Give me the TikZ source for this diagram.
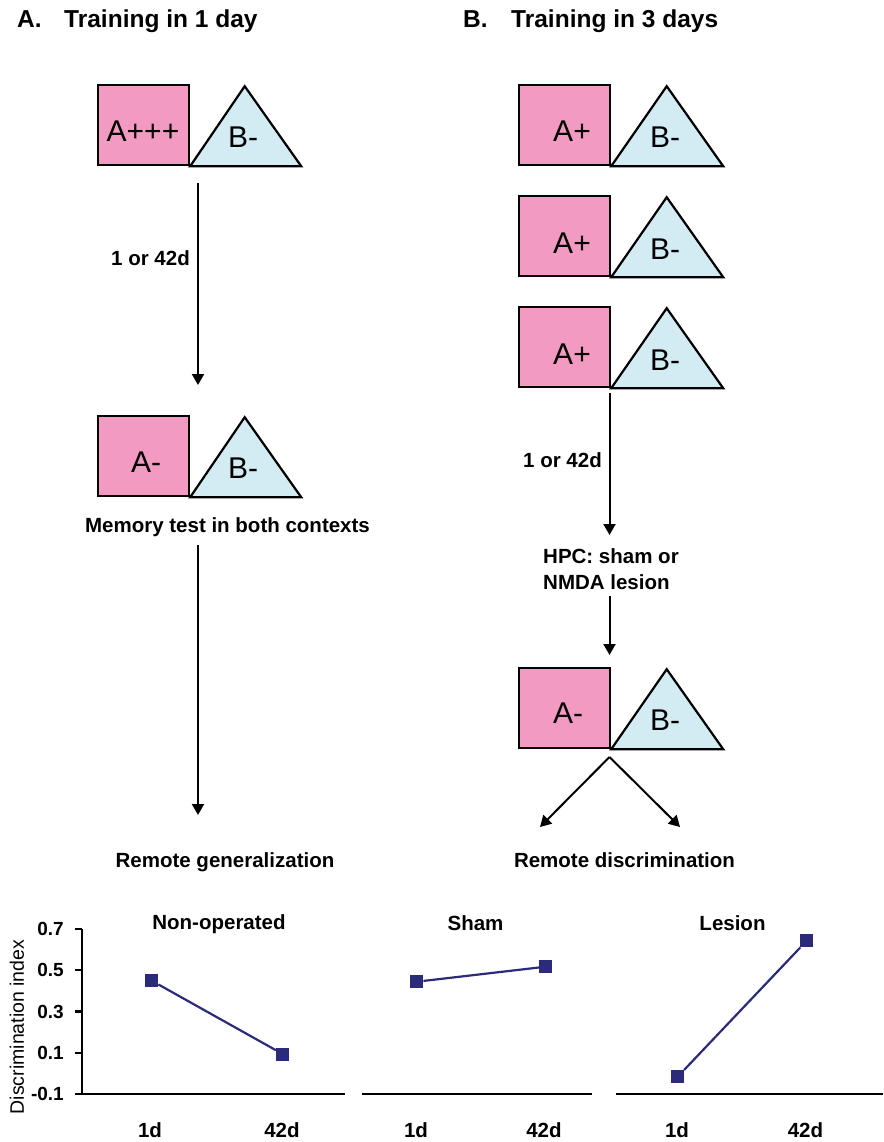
\documentclass[tikz,border=0pt]{standalone}
\usepackage{fontspec}
\setmainfont{Liberation Sans}
\usetikzlibrary{arrows.meta}
\definecolor{ctxpink}{HTML}{F29AC1}
\definecolor{ctxblue}{HTML}{D3ECF3}
\definecolor{datanavy}{HTML}{2B2B7A}
\tikzset{
  head/.style={font=\bfseries\fontsize{24.5}{28}\selectfont, anchor=base west, inner sep=0pt},
  ctxa/.style={draw, line width=2.2pt, fill=ctxpink, minimum width=91pt, minimum height=80pt, inner sep=0pt, anchor=north west},
  ctxb/.style={draw, line width=2.2pt, fill=ctxblue, line join=miter},
  ctxlbl/.style={font=\fontsize{30}{30}\selectfont, anchor=base, inner sep=0pt},
  note/.style={font=\bfseries\fontsize{20.5}{24}\selectfont, anchor=base, inner sep=0pt},
  flow/.style={-{Triangle[length=11pt,width=12pt]}, line width=2pt},
  axisline/.style={line width=2.2pt},
  ticklbl/.style={font=\bfseries\fontsize{19}{20}\selectfont, anchor=east, inner sep=0pt},
  datum/.style={fill=datanavy, minimum size=13pt, inner sep=0pt},
  trend/.style={datanavy, line width=2.2pt}
}
\begin{document}
\begin{tikzpicture}[x=1pt,y=-1pt]
\useasboundingbox (0,0) rectangle (883,1142);
% headings
\node[head] (hA) at (17,28) {A.};
\node[head] (hAt) at (64,28) {Training in 1 day};
\node[head] (hB) at (463,28) {B.};
\node[head] (hBt) at (511,28) {Training in 3 days};

% panel A: one day
\node[ctxa] (sqA1) at (97,84) {};
\draw[ctxb] (sqA1.south east) -- ++(54.5,-80) -- ++(56.5,80) -- cycle;
\node[ctxlbl] (lA1) at (143,142) {A+++};
\node[ctxlbl] (lB1) at (243,148) {B-};
\coordinate (a1s) at (198,183);
\coordinate (a1e) at (198,385);
\draw[flow] (a1s) -- (a1e);
\node[note, anchor=base east] (delayA) at (190,265) {1 or 42d};

\node[ctxa] (sqA2) at (97,415) {};
\draw[ctxb] (sqA2.south east) -- ++(54.5,-80) -- ++(56.5,80) -- cycle;
\node[ctxlbl] (lA2) at (146,472) {A-};
\node[ctxlbl] (lB2) at (243,478) {B-};
\node[note] (memtest) at (227.5,532) {Memory test in both contexts};
\coordinate (a2s) at (198,545);
\coordinate (a2e) at (198,815);
\draw[flow] (a2s) -- (a2e);
\node[note] (remgen) at (225,867) {Remote generalization};

% panel B: three days
\foreach \yy [count=\i] in {84,195,306}{
  \node[ctxa] (sqB\i) at (518,\yy) {};
  \draw[ctxb] (sqB\i.south east) -- ++(55.5,-80) -- ++(56.5,80) -- cycle;
  \node[ctxlbl] at (572,\yy+58) {A+};
  \node[ctxlbl] at (665,\yy+64) {B-};
}
\coordinate (b1s) at (609.5,393);
\coordinate (b1e) at (609.5,535);
\draw[flow] (b1s) -- (b1e);
\node[note, anchor=base east] (delayB) at (602,467) {1 or 42d};
\node[note, anchor=base west] (hpc1) at (543,563) {HPC: sham or};
\node[note, anchor=base west] (hpc2) at (543,589) {NMDA lesion};
\coordinate (b2s) at (609.5,596);
\coordinate (b2e) at (609.5,655);
\draw[flow] (b2s) -- (b2e);

\node[ctxa] (sqB4) at (518,667) {};
\draw[ctxb] (sqB4.south east) -- ++(55.5,-80) -- ++(56.5,80) -- cycle;
\node[ctxlbl] (lA4) at (568,723) {A-};
\node[ctxlbl] (lB4) at (665,730) {B-};
\coordinate (split) at (609.5,757);
\coordinate (splitL) at (540,827);
\coordinate (splitR) at (680,827);
\draw[flow] (split) -- (splitL);
\draw[flow] (split) -- (splitR);
\node[note] (remdis) at (624.5,867) {Remote discrimination};

% discrimination index plots
\draw[axisline] (82,929) -- (82,1094) -- (345,1094);
\draw[axisline] (362,1094) -- (592,1094);
\draw[axisline] (616,1094) -- (883,1094);
\foreach \v/\yy in {0.7/929, 0.5/970, 0.3/1011.5, 0.1/1053, -0.1/1094}{
  \draw[axisline] (75,\yy) -- (82,\yy);
  \node[ticklbl] at (64,\yy) {\v};
}
\node[font=\fontsize{19.5}{20}\selectfont, rotate=90, inner sep=0pt] (ylab) at (17,1027) {Discrimination index};

\node[note] (tNon) at (219,929) {Non-operated};
\node[note] (tSham) at (475.5,930) {Sham};
\node[note] (tLes) at (732.5,930) {Lesion};

\node[datum] (n1) at (151.7,980.7) {};
\node[datum] (n42) at (282.7,1054) {};
\node[datum] (s1) at (416.7,981.7) {};
\node[datum] (s42) at (545.7,966.7) {};
\node[datum] (l1) at (677.7,1076.7) {};
\node[datum] (l42) at (806.7,940.7) {};
\draw[trend] (n1) -- (n42);
\draw[trend] (s1) -- (s42);
\draw[trend] (l1) -- (l42);

\foreach \xx/\t in {150/1d, 282/42d, 416/1d, 544/42d, 677/1d, 805.5/42d}{
  \node[note] at (\xx,1137) {\t};
}
\end{tikzpicture}
\end{document}
